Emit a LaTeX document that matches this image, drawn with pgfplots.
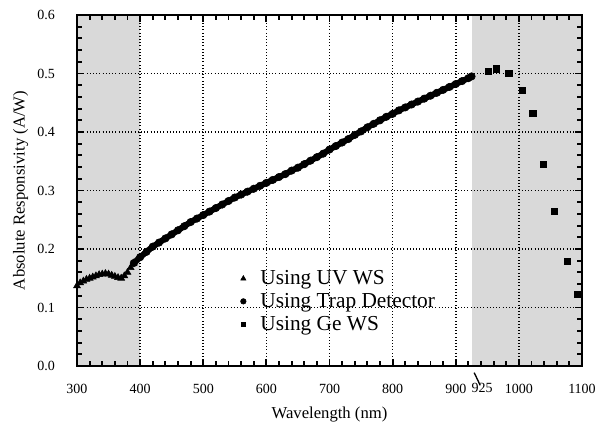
\documentclass[border=0pt]{standalone}
\usepackage{pgfplots}
\pgfplotsset{compat=1.18}
\usepackage{fontspec}
\setmainfont{Liberation Serif}

% UV working standard
\pgfplotstableread{
x y
300 0.137
305 0.142
310 0.145
315 0.148
320 0.150
325 0.152
330 0.154
335 0.156
340 0.157
345 0.158
350 0.157
355 0.155
360 0.153
365 0.151
370 0.150
375 0.154
380 0.160
385 0.168
390 0.176
}\uvws

% trap detector
\pgfplotstableread{
x y
390 0.176
400 0.186
410 0.195
420 0.204
430 0.211
440 0.218
450 0.225
460 0.232
470 0.239
480 0.246
490 0.252
500 0.258
510 0.264
520 0.270
530 0.276
540 0.282
550 0.288
560 0.293
570 0.298
580 0.303
590 0.308
600 0.313
610 0.318
620 0.323
630 0.328
640 0.334
650 0.339
660 0.345
670 0.351
680 0.357
690 0.363
700 0.370
710 0.376
720 0.382
730 0.388
740 0.395
750 0.401
760 0.408
770 0.414
780 0.420
790 0.426
800 0.431
810 0.437
820 0.442
830 0.447
840 0.452
850 0.457
860 0.462
870 0.467
880 0.472
890 0.477
900 0.482
910 0.487
920 0.492
925 0.495
}\trap

% Ge working standard
\pgfplotstableread{
x y
951 0.504
964 0.508
984 0.501
1005 0.472
1022 0.432
1039 0.345
1056 0.265
1076 0.179
1093 0.123
}\gews

\begin{document}
\begin{tikzpicture}
\begin{axis}[
    set layers,
    scale only axis,
    width=378.75pt, height=263.25pt,
    xmin=300, xmax=1100, ymin=0, ymax=0.6,
    xtick={300,400,...,1100},
    ytick={0,0.1,...,0.6},
    minor x tick num=4, minor y tick num=4,
    xmajorticks=true, xminorticks=true, ymajorticks=true, yminorticks=true,
    tick pos=both,
    tick align=inside,
    major tick length=5pt, minor tick length=4pt,
    tick style={black, line width=1.4pt},
    axis line style={line width=1.5pt},
    grid=major,
    major grid style={black, dotted, line width=1.3pt},
    clip=false,
    yticklabel style={/pgf/number format/fixed, /pgf/number format/fixed zerofill,
        /pgf/number format/precision=1, xshift=-13pt},
    xticklabel style={/pgf/number format/set thousands separator={}, yshift=-10pt},
    /pgf/number format/assume math mode=true,
    ticklabel style={font=\fontsize{10.5}{12}\selectfont},
    xlabel={Wavelength (nm)},
    ylabel={Absolute Responsivity (A/W)},
    label style={font=\fontsize{12.5}{15}\selectfont},
    xlabel style={yshift=-3pt},
    legend style={at={(0.3,0.288)}, anchor=north west, draw=none, fill=none,
        font=\fontsize{16}{19}\selectfont, row sep=1pt},
    legend cell align=left,
    legend image code/.code={\draw[mark options={scale=0.75, line width=0.4pt}]
        plot coordinates {(0.2cm,0cm)}; \path (0cm,0cm) (0.5cm,0cm);},
]
\addplot[fill=gray!30, draw=none, forget plot, on layer=axis background]
    coordinates {(300,0) (300,0.6) (400,0.6) (400,0)} -- cycle;
\addplot[fill=gray!30, draw=none, forget plot, on layer=axis background]
    coordinates {(925,0) (925,0.6) (1100,0.6) (1100,0)} -- cycle;
\addplot[only marks, mark=triangle*, mark size=3pt, black] table {\uvws};
\addplot[mark=*, mark size=2.8pt, black, line width=4.5pt,
    mark options={line width=0.4pt}] table {\trap};
\addplot[only marks, mark=square*, mark size=2.3pt, black] table {\gews};
\legend{Using UV WS, Using Trap Detector, Using Ge WS}
% the 925 nm mark below the axis
\draw[line width=1pt] ([xshift=2pt,yshift=-5pt]axis cs:925,0) -- ++(4.5pt,-9.5pt);
\node[font=\fontsize{10.5}{12}\selectfont, anchor=base]
    at ([xshift=8pt,yshift=-20pt]axis cs:925,0) {925};
\end{axis}
\pgfresetboundingbox
\path[use as bounding box] ([xshift=-57.75pt,yshift=-49.5pt]current axis.south west)
    rectangle ([xshift=13.5pt,yshift=11.25pt]current axis.north east);
\end{tikzpicture}
\end{document}
